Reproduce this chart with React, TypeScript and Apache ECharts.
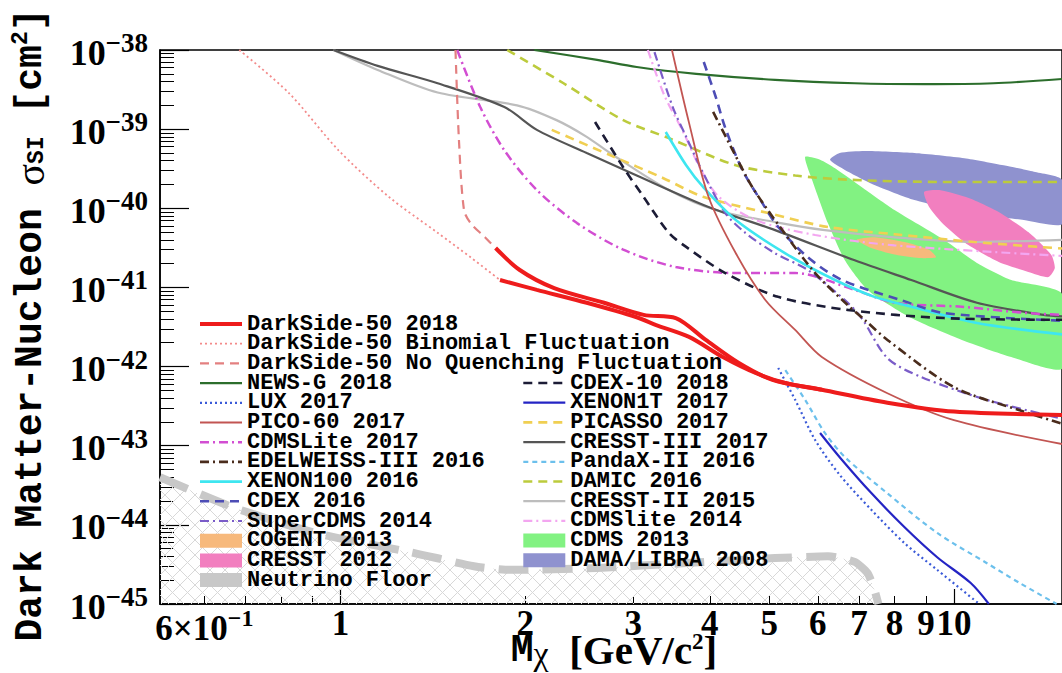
import React, { useEffect, useRef } from "react";
import * as echarts from "echarts";

// ---------- axis ticks / labels ----------
const massMin = 0.508;
const massMax = 15;
const xLabelValues = [0.6, 1, 2, 3, 4, 5, 6, 7, 8, 9, 10];
const xLabelTexts = ["6×10^-1", "1", "2", "3", "4", "5", "6", "7", "8", "9", "10"];
const xMajorTickValues = [1, 10];
const xMinorTickValues = [0.6, 0.7, 0.8, 0.9, 2, 3, 4, 5, 6, 7, 8, 9];
const yDecadeMin = -45;
const yDecadeMax = -38;
const yMinorMultipliers = [2, 3, 4, 5, 6, 7, 8, 9];

// ---------- data: [mass GeV/c^2, sigma cm^2] ----------
const darkSide2018Upper = [[1.79, 3.15e-41], [1.96, 1.66e-41], [2.23, 9.8e-42], [2.69, 6.4e-42], [3.12, 4.5e-42], [3.52, 4.1e-42], [3.94, 2.17e-42], [4.46, 1.11e-42], [5.06, 6.8e-43], [6.09, 5.1e-43], [7.79, 3.5e-43], [10.0, 2.7e-43], [15, 2.45e-43]];
const darkSide2018Lower = [[1.82, 1.24e-41], [2.09, 9.3e-42], [2.52, 6.4e-42], [3.04, 4.2e-42], [3.27, 3.35e-42], [3.70, 2.37e-42], [4.20, 1.32e-42], [4.75, 8.3e-43], [5.31, 6.2e-43], [6.09, 5.1e-43]];
const darkSideBinomial = [[0.684, 1e-38], [0.824, 2.86e-39], [0.993, 5.4e-40], [1.20, 1.39e-40], [1.44, 4.9e-41], [1.63, 2.4e-41], [1.82, 1.24e-41]];
const darkSideNoQuench = [[1.54, 1e-38], [1.56, 7.3e-40], [1.59, 9.5e-41], [1.63, 6.5e-41], [1.72, 4.3e-41], [1.79, 3.15e-41]];
const newsG2018 = [[2.07, 1e-38], [2.62, 7.5e-39], [3.04, 6.1e-39], [3.80, 5.0e-39], [5.11, 4.2e-39], [6.89, 3.8e-39], [8.94, 3.7e-39], [11.6, 3.8e-39], [15, 4.3e-39]];
const lux2017 = [[5.17, 9.6e-43], [5.51, 3.8e-43], [5.94, 1.18e-43], [6.51, 4.3e-44], [7.34, 1.54e-44], [8.30, 5.9e-45], [9.39, 2.7e-45], [11.0, 1e-45]];
const pico60_2017 = [[3.47, 1e-38], [3.70, 1.2e-39], [3.98, 1.4e-40], [4.41, 2.7e-41], [4.93, 6.9e-42], [5.51, 2.9e-42], [6.09, 1.32e-42], [7.79, 4.6e-43], [10.0, 2.1e-43], [15, 1.05e-43]];
const cdmsLite2017 = [[1.55, 1e-38], [1.69, 1.9e-39], [1.85, 5.4e-40], [2.09, 1.7e-40], [2.43, 6.5e-41], [2.89, 3.0e-41], [3.52, 1.81e-41], [4.41, 1.52e-41], [5.51, 1.52e-41], [6.89, 9.3e-42], [8.0, 6.4e-42], [10.3, 5.7e-42], [13.1, 4.75e-42], [15, 4.5e-42]];
const edelweiss2016 = [[4.05, 1.65e-39], [4.36, 5.4e-40], [4.69, 1.86e-40], [5.25, 5.3e-41], [5.94, 1.52e-41], [6.71, 6.0e-42], [7.15, 3.9e-42], [7.79, 2.17e-42], [10.0, 5.5e-43], [12.8, 2.8e-43], [15, 1.9e-43]];
const xenon100_2016 = [[3.39, 9.2e-40], [3.66, 3.5e-40], [3.90, 1.86e-40], [4.41, 7.1e-41], [5.31, 2.7e-41], [6.40, 1.24e-41], [7.42, 7.6e-42], [8.52, 5.7e-42], [10.9, 3.55e-42], [15, 2.55e-42]];
const cdex2016 = [[3.91, 7.05e-39], [4.09, 2.55e-39], [4.24, 1.03e-39], [4.52, 3.05e-40], [4.87, 1.17e-40], [5.17, 5.8e-41], [5.78, 2.4e-41], [6.57, 1.24e-41], [8.21, 6.9e-42], [9.63, 4.75e-42], [15, 3.8e-42]];
const superCdms2014 = [[3.25, 9.4e-39], [3.48, 1.9e-39], [3.66, 8.0e-40], [3.90, 2.8e-40], [4.24, 8.7e-41], [4.57, 4.9e-41], [5.11, 2.7e-41], [5.78, 1.66e-41], [6.64, 6.9e-42], [7.07, 4.1e-42], [7.79, 1.28e-42], [8.84, 7.4e-43], [11.3, 3.8e-43], [15, 2.2e-43]];
const cdex10_2018 = [[2.60, 1.23e-39], [2.89, 3.3e-40], [3.12, 1.39e-40], [3.43, 4.9e-41], [3.66, 3.25e-41], [4.24, 1.52e-41], [5.17, 7.6e-42], [6.71, 5.2e-42], [9.63, 4.1e-42], [15, 3.9e-42]];
const xenon1t2017 = [[6.05, 1.45e-43], [6.57, 6.6e-44], [7.34, 2.5e-44], [8.30, 9.4e-45], [9.39, 3.9e-45], [10.65, 1.84e-45], [11.4, 1e-45]];
const picasso2017 = [[2.21, 9.8e-40], [2.75, 4.7e-40], [3.36, 2.4e-40], [3.90, 1.4e-40], [4.98, 8.7e-41], [6.23, 5.8e-41], [8.0, 4.7e-41], [10.8, 3.75e-41], [15, 3.1e-41]];
const cresstIII2017 = [[0.974, 1e-38], [1.15, 6.3e-39], [1.44, 3.8e-39], [1.85, 1.9e-39], [2.09, 9.8e-40], [2.52, 5.0e-40], [3.04, 2.6e-40], [3.98, 1.04e-40], [5.11, 5.3e-41], [6.89, 2.2e-41], [8.52, 1.24e-41], [10.9, 6.4e-42], [14.0, 4.5e-42], [15, 4.3e-42]];
const pandax2016 = [[5.31, 9.0e-43], [5.72, 3.8e-43], [6.16, 1.45e-43], [6.64, 7.2e-44], [7.79, 2.5e-44], [9.39, 7.9e-45], [11.3, 3.3e-45], [12.8, 1.84e-45], [14.7, 1e-45]];
const damic2016 = [[1.87, 1e-38], [2.31, 3.8e-39], [2.89, 1.3e-39], [3.43, 7.7e-40], [4.41, 3.5e-40], [5.51, 2.6e-40], [6.71, 2.3e-40], [9.63, 2.15e-40], [15, 2.15e-40]];
const cresstII2015 = [[0.974, 1e-38], [1.15, 5.6e-39], [1.44, 2.9e-39], [1.94, 2.0e-39], [2.25, 1.3e-39], [2.52, 8.0e-40], [2.75, 5.0e-40], [3.43, 1.7e-40], [4.09, 9.5e-41], [5.11, 6.7e-41], [6.16, 5.3e-41], [8.0, 4.3e-41], [10.8, 3.75e-41], [15, 4.0e-41]];
const cdmsLite2014 = [[3.17, 1e-38], [3.37, 2.7e-39], [3.62, 9.2e-40], [3.87, 3.05e-40], [4.14, 1.39e-40], [4.75, 7.1e-41], [5.94, 4.6e-41], [8.0, 3.4e-41], [15, 2.5e-41]];
const neutrinoFloor = [[0.508, 4.0e-44], [0.666, 1.68e-44], [0.911, 7.9e-45], [1.32, 4.4e-45], [1.65, 3.0e-45], [1.89, 2.7e-45], [2.62, 2.85e-45], [3.66, 3.3e-45], [5.11, 3.8e-45], [6.23, 4.0e-45], [6.89, 3.4e-45], [7.23, 2.46e-45], [7.42, 1.5e-45], [7.53, 1e-45]];
// closed regions
const cdms2013 = [[5.72, 4.45e-40], [6.05, 4.1e-40], [6.40, 3.2e-40], [7.07, 1.86e-40], [8.0, 9.5e-41], [9.63, 4.0e-41], [10.9, 2.04e-41], [12.4, 1.24e-41], [15, 8.3e-42], [15, 9.4e-43], [12.4, 1.32e-42], [10.3, 2.17e-42], [8.52, 4.1e-42], [7.23, 9.3e-42], [6.64, 2.2e-41], [6.23, 6.5e-41], [5.87, 2.3e-40]];
const damaLibra2008 = [[6.28, 4.1e-40], [6.51, 5.0e-40], [7.15, 5.3e-40], [8.62, 5.0e-40], [10.4, 4.3e-40], [12.05, 3.5e-40], [13.5, 2.9e-40], [15, 2.3e-40], [15, 6.3e-41], [13.0, 7.1e-41], [10.4, 9.0e-41], [8.62, 1.27e-40], [7.42, 1.97e-40], [6.64, 3.05e-40]];
const cresst2012 = [[8.94, 1.61e-40], [9.46, 1.70e-40], [10.57, 1.35e-40], [11.83, 9.0e-41], [13.22, 5.0e-41], [14.41, 2.57e-41], [14.6, 1.76e-41], [14.25, 1.35e-41], [13.22, 1.57e-41], [11.83, 2.1e-41], [10.57, 3.4e-41], [9.63, 6.2e-41], [9.11, 1.04e-40]];
const cogent2013 = [[6.94, 4.0e-41], [7.42, 4.3e-41], [8.30, 3.75e-41], [9.11, 3.0e-41], [9.35, 2.4e-41], [8.77, 2.35e-41], [8.0, 2.6e-41], [7.29, 3.2e-41]];

const leftLegend = ["DarkSide-50 2018", "DarkSide-50 Binomial Fluctuation", "DarkSide-50 No Quenching Fluctuation", "NEWS-G 2018", "LUX 2017", "PICO-60 2017", "CDMSLite 2017", "EDELWEISS-III 2016", "XENON100 2016", "CDEX 2016", "SuperCDMS 2014", "COGENT 2013", "CRESST 2012", "Neutrino Floor"];
const rightLegend = ["CDEX-10 2018", "XENON1T 2017", "PICASSO 2017", "CRESST-III 2017", "PandaX-II 2016", "DAMIC 2016", "CRESST-II 2015", "CDMSlite 2014", "CDMS 2013", "DAMA/LIBRA 2008"];

const regionColors: Record<string, string> = {
  "COGENT 2013": "#f7b97c",
  "CRESST 2012": "#f27fbf",
  "CDMS 2013": "#82f282",
  "DAMA/LIBRA 2008": "#8f92cf",
  "Neutrino Floor": "#c8c8c8",
};

const toLog = (d: number[][]) => d.map(([m, s]) => [Math.log10(m), Math.log10(s)]);

const DASH = [9, 6];
const DOT = [2, 3];
const DASHDOT = [9, 4, 2, 4];

function lineSeries(name: string, data: number[][], color: string, width: number, type: any, z = 5, smooth: number = 0.3) {
  return {
    type: "line",
    name,
    data: toLog(data),
    symbol: "none",
    smooth,
    silent: true,
    z,
    itemStyle: { color },
    lineStyle: { color, width, type, cap: "butt" },
  };
}

function regionSeries(name: string, data: number[][], z: number) {
  const pts = toLog(data);
  const color = regionColors[name];
  return {
    type: "custom",
    name,
    data: pts,
    silent: true,
    z,
    itemStyle: { color },
    renderItem: (params: any, api: any) => {
      if (params.dataIndex !== 0) return null;
      return {
        type: "polygon",
        shape: { points: pts.map((p) => api.coord(p)), smooth: 0.2 },
        style: { fill: color },
      };
    },
  };
}

export default function App() {
  const ref = useRef<HTMLDivElement>(null);
  useEffect(() => {
    if (!ref.current) return;
    const chart = echarts.init(ref.current, undefined, { renderer: "svg" });

    const cv = document.createElement("canvas");
    cv.width = 15;
    cv.height = 15;
    const ctx = cv.getContext("2d");
    if (ctx) {
      ctx.strokeStyle = "#d8d8d8";
      ctx.lineWidth = 1;
      ctx.beginPath();
      ctx.moveTo(0, 0);
      ctx.lineTo(15, 15);
      ctx.moveTo(15, 0);
      ctx.lineTo(0, 15);
      ctx.stroke();
    }
    const hatch: any = { image: cv, repeat: "repeat", imageWidth: 15, imageHeight: 15 };

    const serif = "Liberation Serif";
    const mono = "Liberation Mono";

    const yMinor: number[] = [];
    for (let n = yDecadeMin; n < yDecadeMax; n++) yMinorMultipliers.forEach((k) => yMinor.push(n + Math.log10(k)));

    const xLabelFmt = (val: number) => {
      const i = xLabelValues.findIndex((v) => Math.abs(Math.log10(v) - val) < 1e-6);
      if (i < 0) return "";
      const t = xLabelTexts[i];
      if (t.includes("^")) {
        const [b, e] = t.split("^");
        return `{b|${b}}{s|${e.replace("-", "−")}}`;
      }
      return `{b|${t}}`;
    };

    const legendData = (names: string[]) =>
      names.map((n) =>
        regionColors[n]
          ? { name: n, icon: "rect", itemStyle: { color: regionColors[n], opacity: 1 } }
          : { name: n }
      );

    const legendCommon = {
      orient: "vertical",
      itemWidth: 42,
      itemHeight: 14,
      itemGap: -2.3,
      padding: 0,
      selectedMode: false,
      itemStyle: { opacity: 0 },
      lineStyle: { width: "inherit", type: "inherit" },
      textStyle: { fontFamily: mono, fontWeight: "bold", fontSize: 22, color: "#000" },
    };

    const series: any[] = [
      {
        type: "line",
        name: "hatch",
        data: toLog(neutrinoFloor),
        symbol: "none",
        smooth: 0.2,
        silent: true,
        z: 1,
        lineStyle: { width: 0, opacity: 0 },
        areaStyle: { color: hatch, origin: "start", opacity: 1 },
      },
      regionSeries("CDMS 2013", cdms2013, 2),
      regionSeries("DAMA/LIBRA 2008", damaLibra2008, 2),
      regionSeries("CRESST 2012", cresst2012, 2),
      regionSeries("COGENT 2013", cogent2013, 2),
      lineSeries("Neutrino Floor", neutrinoFloor, "#c8c8c8", 8, [30, 14], 3, 0.2),
      lineSeries("NEWS-G 2018", newsG2018, "#2c6e2c", 2.2, "solid"),
      lineSeries("CRESST-II 2015", cresstII2015, "#bdbdbd", 2.2, "solid"),
      lineSeries("CRESST-III 2017", cresstIII2017, "#555555", 2.2, "solid"),
      lineSeries("DAMIC 2016", damic2016, "#bccb3c", 2.6, DASH),
      lineSeries("PICASSO 2017", picasso2017, "#f0cf52", 2.6, DASH),
      lineSeries("CDMSlite 2014", cdmsLite2014, "#f3a6f0", 2.2, DASHDOT),
      lineSeries("CDMSLite 2017", cdmsLite2017, "#d24ed2", 2.5, DASHDOT),
      lineSeries("SuperCDMS 2014", superCdms2014, "#7a5cc8", 2.2, DASHDOT),
      lineSeries("XENON100 2016", xenon100_2016, "#3ee6f0", 2.6, "solid"),
      lineSeries("CDEX 2016", cdex2016, "#4d4db5", 2.6, DASH),
      lineSeries("CDEX-10 2018", cdex10_2018, "#1c1c36", 2.6, DASH),
      lineSeries("EDELWEISS-III 2016", edelweiss2016, "#4a2c1c", 2.6, DASHDOT),
      lineSeries("PICO-60 2017", pico60_2017, "#c25552", 1.8, "solid"),
      lineSeries("PandaX-II 2016", pandax2016, "#6cc0ec", 2.2, [5, 4]),
      lineSeries("LUX 2017", lux2017, "#3a5ad8", 2.2, DOT),
      lineSeries("XENON1T 2017", xenon1t2017, "#2424c4", 2.2, "solid"),
      lineSeries("DarkSide-50 Binomial Fluctuation", darkSideBinomial, "#f38a8a", 1.8, DOT),
      lineSeries("DarkSide-50 No Quenching Fluctuation", darkSideNoQuench, "#e38080", 2.2, DASH),
      lineSeries("DarkSide-50 2018", darkSide2018Upper, "#ee1c1c", 4, "solid", 8),
      lineSeries("DarkSide-50 2018", darkSide2018Lower, "#ee1c1c", 4, "solid", 8),
    ];

    const option: any = {
      animation: false,
      backgroundColor: "#ffffff",
      grid: { left: 160, top: 50, right: -7, bottom: 69, show: true, borderColor: "#000", borderWidth: 1.5, backgroundColor: "transparent" },
      xAxis: [
        {
          type: "value",
          min: Math.log10(massMin),
          max: Math.log10(massMax),
          position: "bottom",
          axisLine: { show: true, onZero: false, lineStyle: { color: "#000", width: 1.5 } },
          splitLine: { show: false },
          axisTick: { show: true, inside: true, length: 15, customValues: xMajorTickValues.map(Math.log10), lineStyle: { color: "#000", width: 1.2 } },
          axisLabel: {
            show: true,
            customValues: xLabelValues.map(Math.log10),
            formatter: xLabelFmt,
            margin: 2,
            color: "#000",
            rich: {
              b: { fontFamily: serif, fontWeight: "bold", fontSize: 35, color: "#000" },
              s: { fontFamily: serif, fontWeight: "bold", fontSize: 24, color: "#000", padding: [0, 0, 20, 0] },
            },
          },
        },
        {
          type: "value",
          min: Math.log10(massMin),
          max: Math.log10(massMax),
          position: "bottom",
          axisLine: { show: false, onZero: false },
          splitLine: { show: false },
          axisTick: { show: true, inside: true, length: 8, customValues: xMinorTickValues.map(Math.log10), lineStyle: { color: "#000", width: 1 } },
          axisLabel: { show: false },
        },
      ],
      yAxis: [
        {
          type: "value",
          min: yDecadeMin,
          max: yDecadeMax,
          interval: 1,
          position: "left",
          axisLine: { show: true, onZero: false, lineStyle: { color: "#000", width: 1.5 } },
          splitLine: { show: false },
          axisTick: { show: true, inside: true, length: 29, lineStyle: { color: "#000", width: 1.2 } },
          axisLabel: {
            margin: 12,
            formatter: (v: number) => `{b|10}{s|−${Math.abs(Math.round(v))}}`,
            rich: {
              b: { fontFamily: serif, fontWeight: "bold", fontSize: 36, color: "#000", padding: [5, 0, 0, 0] },
              s: { fontFamily: serif, fontWeight: "bold", fontSize: 27, color: "#000", padding: [0, 0, 14, 0] },
            },
          },
        },
        {
          type: "value",
          min: yDecadeMin,
          max: yDecadeMax,
          position: "left",
          axisLine: { show: false, onZero: false },
          splitLine: { show: false },
          axisTick: { show: true, inside: true, length: 14, customValues: yMinor, lineStyle: { color: "#000", width: 1 } },
          axisLabel: { show: false },
        },
      ],
      legend: [
        { ...legendCommon, left: 198, top: 313, data: legendData(leftLegend) },
        { ...legendCommon, left: 522, top: 372, data: legendData(rightLegend) },
      ],
      graphic: [
        {
          type: "text",
          x: 30,
          y: 325,
          rotation: Math.PI / 2,
          style: {
            text: "{m|Dark Matter-Nucleon }{g|σ}{sub|SI}{m| [cm}{sup|2}{m|]}",
            align: "center",
            verticalAlign: "middle",
            rich: {
              m: { fontFamily: mono, fontWeight: "bold", fontSize: 38, fill: "#000" },
              g: { fontFamily: serif, fontSize: 40, fill: "#000" },
              sub: { fontFamily: mono, fontWeight: "bold", fontSize: 23, fill: "#000", padding: [14, 0, 0, 0] },
              sup: { fontFamily: mono, fontWeight: "bold", fontSize: 23, fill: "#000", padding: [0, 0, 18, 0] },
            },
          },
        },
        {
          type: "text",
          x: 614,
          y: 650,
          style: {
            text: "{m|M}{c|χ}{g|  [GeV/c}{sup|2}{g|]}",
            align: "center",
            verticalAlign: "middle",
            rich: {
              m: { fontFamily: mono, fontWeight: "bold", fontSize: 38, fill: "#000" },
              c: { fontFamily: serif, fontSize: 34, fill: "#000", padding: [6, 0, 0, 0] },
              g: { fontFamily: serif, fontWeight: "bold", fontSize: 41, fill: "#000" },
              sup: { fontFamily: serif, fontWeight: "bold", fontSize: 23, fill: "#000", padding: [0, 0, 17, 0] },
            },
          },
        },
      ],
      series,
    };

    chart.setOption(option);
    return () => chart.dispose();
  }, []);

  return <div ref={ref} style={{ position: "fixed", left: 0, top: 0, width: 1062, height: 673, background: "#fff" }} />;
}
